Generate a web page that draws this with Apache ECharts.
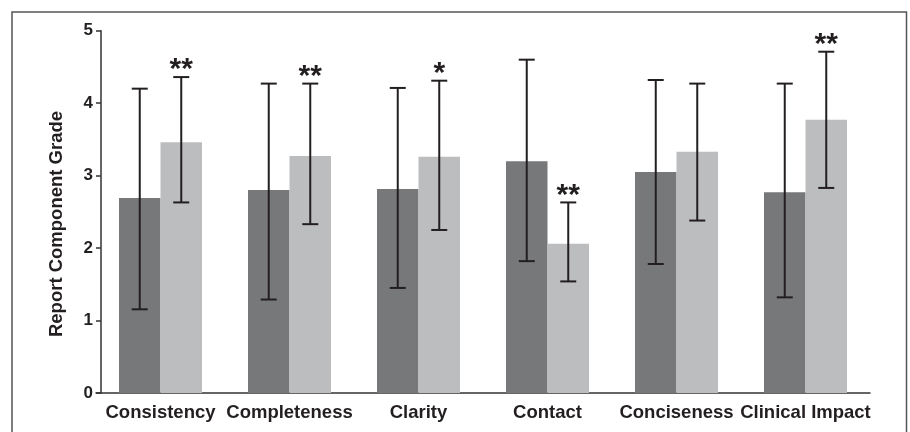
<!DOCTYPE html>
<html>
<head>
<meta charset="utf-8">
<script src="https://cdn.jsdelivr.net/npm/echarts@6/dist/echarts.min.js"></script>
<style>
html,body{margin:0;padding:0;background:#fff;}
#chart{width:910px;height:432px;}
</style>
</head>
<body>
<div id="chart"></div>
<script>
const categories = ['Consistency', 'Completeness', 'Clarity', 'Contact', 'Conciseness', 'Clinical Impact'];
const groupA = [2.69, 2.80, 2.815, 3.20, 3.05, 2.77];
const groupALow = [1.155, 1.29, 1.45, 1.82, 1.78, 1.32];
const groupAHigh = [4.20, 4.27, 4.21, 4.60, 4.32, 4.27];
const groupB = [3.46, 3.27, 3.26, 2.06, 3.33, 3.77];
const groupBLow = [2.63, 2.33, 2.25, 1.54, 2.38, 2.83];
const groupBHigh = [4.36, 4.27, 4.31, 2.63, 4.27, 4.71];
const sigA = ['', '', '', '', '', ''];
const sigB = ['**', '**', '*', '**', '', '**'];
const yName = 'Report Component Grade';

const BAR_W = 41.5;
const INK = '#231f20';
const FONT = '"Liberation Sans", Arial, sans-serif';

function errSeries(low, high, sig, shift) {
  return {
    type: 'custom',
    silent: true,
    z: 5,
    encode: { x: 0, y: [1, 2] },
    data: low.map((v, i) => [i, v, high[i]]),
    renderItem: function (params, api) {
      const i = api.value(0);
      const lo = api.coord([i, api.value(1)]);
      const hi = api.coord([i, api.value(2)]);
      const x = lo[0] + shift * BAR_W / 2;
      const cw = 8;
      const st = { stroke: INK, lineWidth: 2 };
      const children = [
        { type: 'line', shape: { x1: x, y1: hi[1], x2: x, y2: lo[1] }, style: st },
        { type: 'line', shape: { x1: x - cw, y1: hi[1], x2: x + cw, y2: hi[1] }, style: st },
        { type: 'line', shape: { x1: x - cw, y1: lo[1], x2: x + cw, y2: lo[1] }, style: st }
      ];
      const s = sig[params.dataIndex];
      if (s) {
        children.push({
          type: 'text',
          style: {
            text: s, x: x, y: hi[1] - 7,
            align: 'center', verticalAlign: 'middle',
            font: 'bold 30px ' + FONT, fill: INK
          }
        });
      }
      return { type: 'group', children: children };
    }
  };
}

const chart = echarts.init(document.getElementById('chart'), null, { renderer: 'canvas' });
chart.setOption({
  animation: false,
  backgroundColor: '#fff',
  grid: { left: 96, right: 40, top: 30.7, bottom: 39, containLabel: false },
  xAxis: {
    type: 'category',
    data: categories,
    axisLine: { lineStyle: { color: '#333', width: 1.5 } },
    axisTick: { show: false },
    axisLabel: { color: INK, fontSize: 18.5, fontWeight: 'bold', fontFamily: FONT, margin: 10, interval: 0 }
  },
  yAxis: {
    type: 'value',
    min: 0, max: 5, interval: 1,
    offset: -5,
    splitLine: { show: false },
    axisLine: { show: true, lineStyle: { color: '#333', width: 1.5 } },
    axisTick: { show: true, length: 5, lineStyle: { color: '#333', width: 1.5 } },
    axisLabel: { color: INK, fontSize: 17, fontWeight: 'bold', fontFamily: FONT, margin: 8 }
  },
  graphic: [
    { type: 'rect', shape: { x: 12, y: 12, width: 894.5, height: 440 },
      style: { fill: 'none', stroke: '#555', lineWidth: 1.5 }, silent: true },
    { type: 'text', x: 57, y: 224, rotation: Math.PI / 2,
      style: { text: yName, align: 'center', verticalAlign: 'middle',
               font: 'bold 18.5px ' + FONT, fill: INK } }
  ],
  series: [
    { type: 'bar', data: groupA, barWidth: BAR_W, barGap: '0%',
      itemStyle: { color: '#77787a' }, silent: true },
    { type: 'bar', data: groupB, barWidth: BAR_W, barGap: '0%',
      itemStyle: { color: '#bcbdbf' }, silent: true },
    errSeries(groupALow, groupAHigh, sigA, -1),
    errSeries(groupBLow, groupBHigh, sigB, 1)
  ]
});
</script>
</body>
</html>
